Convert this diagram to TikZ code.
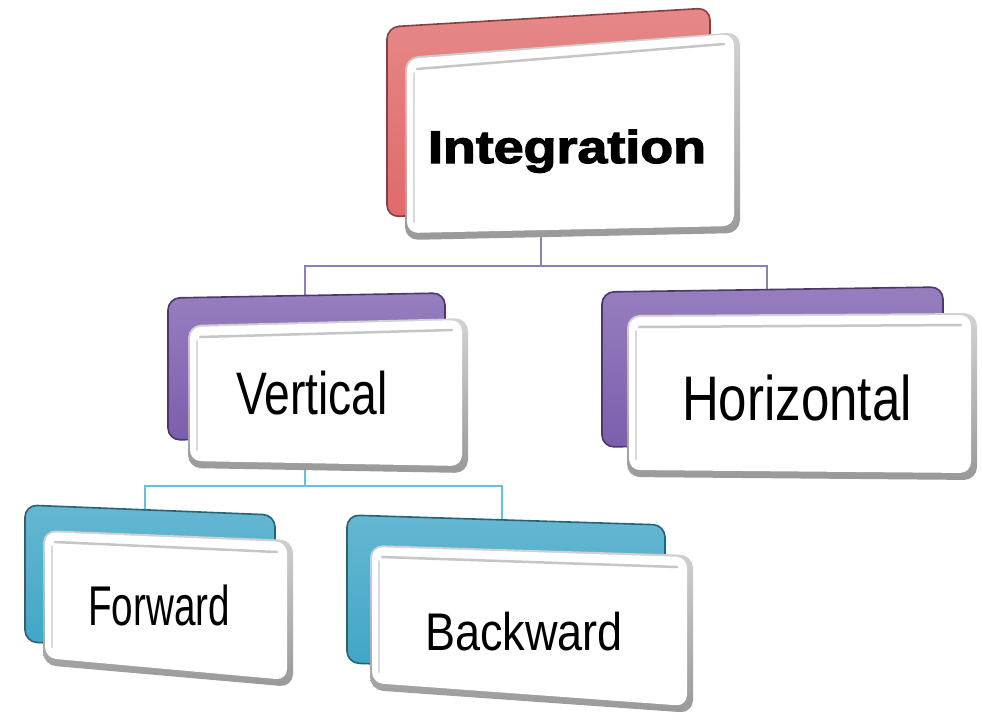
\documentclass[tikz,border=0pt]{standalone}
\usepackage{fontspec}
\setmainfont{Liberation Sans}[BoldFeatures={FakeBold=2.5}]
\usetikzlibrary{calc}

\definecolor{redcard}{HTML}{E06A6A}
\definecolor{purplecard}{HTML}{7C5EAE}
\definecolor{tealcard}{HTML}{3FA5C6}
\definecolor{purplelink}{HTML}{8E80AE}
\definecolor{teallink}{HTML}{6CBFD2}

% four corners of a card: name, top-left, top-right, bottom-right, bottom-left
\newcommand\cardcorners[5]{%
  \coordinate (#1-tl) at (#2);
  \coordinate (#1-tr) at (#3);
  \coordinate (#1-br) at (#4);
  \coordinate (#1-bl) at (#5);
}

% coloured card lying behind
\newcommand\backface[2]{%
  \shadedraw[top color=#2!80!white, bottom color=#2, draw=#2!60!black,
             line width=1.6pt, rounded corners=12pt]
    (#1-tl) -- (#1-tr) -- (#1-br) -- (#1-bl) -- cycle;
}

% white bevelled card in front
\newcommand\frontface[1]{%
  \shade[top color=gray!35, bottom color=gray!80, rounded corners=13pt]
    (#1-tl) -- (#1-tr) -- (#1-br) -- (#1-bl) -- cycle;
  \fill[white, rounded corners=11pt]
    ($(#1-tl)+(2,2)$) -- ($(#1-tr)+(-6,2)$) -- ($(#1-br)+(-6,-7)$) -- ($(#1-bl)+(2,-7)$) -- cycle;
  \draw[gray!45, line width=2.5pt, line cap=round]
    ($(#1-tl)+(12,12)$) -- ($(#1-tr)+(-16,12)$);
  \draw[gray!30, line width=2pt, line cap=round]
    ($(#1-tl)+(9,16)$) -- ($(#1-bl)+(9,-18)$);
}

\begin{document}
\begin{tikzpicture}[x=1pt, y=-1pt,
  linkP/.style={draw=purplelink, line width=1.4pt},
  linkT/.style={draw=teallink, line width=1.4pt},
  lbl/.style={inner sep=0pt, anchor=base, text=black}]

\useasboundingbox (0,0) rectangle (982,721);
\fill[white] (0,0) rectangle (982,721);

% card geometry
\cardcorners{intB}{387,27}{710,8}{710,198}{387,217}
\cardcorners{intF}{405,57}{740,32}{740,233}{405,240}
\cardcorners{verB}{168,298}{445,293}{445,435}{168,440}
\cardcorners{verF}{188,325}{468,318}{468,473}{188,468}
\cardcorners{horB}{602,292}{943,287}{943,442}{602,447}
\cardcorners{horF}{627,315}{977,313}{977,480}{627,477}
\cardcorners{fwdB}{25,505}{275,515}{275,652}{25,642}
\cardcorners{fwdF}{43,530}{293,540}{293,687}{43,665}
\cardcorners{bwdB}{347,515}{665,525}{665,673}{347,663}
\cardcorners{bwdF}{370,545}{693,555}{693,713}{370,690}

% connector ends
\coordinate (int-b) at (541,236);
\coordinate (ver-t) at (305,296);
\coordinate (hor-t) at (767,289);
\coordinate (ver-b) at (305,470);
\coordinate (fwd-t) at (145,510);
\coordinate (bwd-t) at (502,520);

% connectors
\draw[linkP] (int-b) -- ++(0,30) coordinate (busP);
\draw[linkP] (busP) -| (ver-t);
\draw[linkP] (busP) -| (hor-t);
\draw[linkT] (ver-b) -- ++(0,16) coordinate (busT);
\draw[linkT] (busT) -| (fwd-t);
\draw[linkT] (busT) -| (bwd-t);

% cards
\backface{intB}{redcard}
\frontface{intF}
\backface{verB}{purplecard}
\frontface{verF}
\backface{horB}{purplecard}
\frontface{horF}
\backface{fwdB}{tealcard}
\frontface{fwdF}
\backface{bwdB}{tealcard}
\frontface{bwdF}

% labels
\node[lbl, font=\fontsize{46}{46}\selectfont\bfseries] (int) at (567,163)
  {\scalebox{1.17}[1]{Integration}};
\node[lbl, font=\fontsize{60}{60}\selectfont] (ver) at (312,414)
  {\scalebox{0.77}[1]{Vertical}};
\node[lbl, font=\fontsize{63}{63}\selectfont] (hor) at (797,420)
  {\scalebox{0.81}[1]{Horizontal}};
\node[lbl, font=\fontsize{56}{56}\selectfont] (fwd) at (159,625)
  {\scalebox{0.69}[1]{Forward}};
\node[lbl, font=\fontsize{53}{53}\selectfont] (bwd) at (524,650)
  {\scalebox{0.85}[1]{Backward}};

\end{tikzpicture}
\end{document}
